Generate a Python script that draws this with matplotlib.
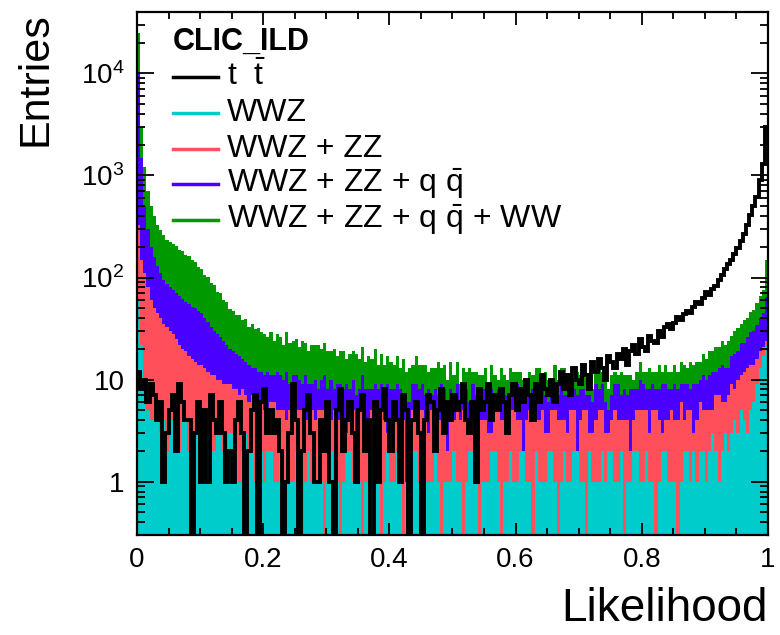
import numpy as np
import matplotlib
matplotlib.use("Agg")
import matplotlib.pyplot as plt
from matplotlib.ticker import LogLocator, MultipleLocator, NullFormatter

plt.rcParams['font.family'] = ['Liberation Sans', 'DejaVu Sans']
plt.rcParams['mathtext.fontset'] = 'custom'
plt.rcParams['mathtext.rm'] = 'Liberation Sans'
plt.rcParams['mathtext.it'] = 'Liberation Sans:italic'
plt.rcParams['mathtext.bf'] = 'Liberation Sans:bold'

# 200 bins in likelihood, entries per bin for each process
n_bins = 200

wwz = [60, 22, 9, 5, 4, 4, 4, 3, 4, 2,
       4, 4, 5, 2, 4, 4, 2, 2, 3, 4,
       2, 2, 3, 2, 2, 4, 3, 2, 2, 3,
       3, 2, 1, 2, 3, 2, 2, 1, 2, 2,
       1, 2, 2, 1, 1, 2, 1, 2, 1, 1,
       2, 1, 0, 1, 2, 1, 1, 2, 1, 0,
       1, 2, 1, 1, 0, 1, 2, 2, 1, 1,
       1, 0, 1, 1, 2, 1, 1, 0, 1, 2,
       1, 1, 2, 1, 0, 1, 1, 2, 2, 1,
       0, 1, 1, 1, 2, 1, 0, 1, 1, 1,
       2, 1, 1, 0, 1, 2, 2, 1, 0, 1,
       1, 1, 2, 2, 1, 0, 1, 1, 2, 1,
       1, 2, 2, 1, 1, 0, 2, 1, 1, 1,
       2, 2, 1, 0, 1, 2, 1, 1, 2, 2,
       1, 1, 0, 2, 1, 1, 1, 2, 1, 2,
       2, 1, 1, 2, 0, 1, 1, 2, 2, 1,
       1, 2, 1, 1, 0, 1, 2, 2, 1, 1,
       1, 0, 1, 2, 2, 1, 2, 1, 2, 2,
       1, 2, 3, 2, 1, 2, 3, 2, 3, 4,
       3, 5, 4, 3, 5, 6, 9, 13, 17, 22]

zz = [270, 128, 101, 75, 56, 46, 41, 37, 31, 31,
      26, 24, 20, 20, 16, 15, 15, 14, 12, 10,
      12, 11, 9, 9, 9, 6, 7, 7, 7, 6,
      5, 6, 6, 6, 4, 4, 5, 5, 4, 4,
      4, 3, 4, 5, 4, 3, 4, 2, 4, 4,
      3, 4, 5, 3, 2, 4, 3, 3, 4, 5,
      3, 2, 4, 3, 4, 3, 1, 3, 4, 2,
      4, 5, 3, 2, 3, 4, 2, 5, 3, 1,
      3, 4, 2, 3, 4, 0, 3, 3, 2, 4,
      5, 3, 2, 4, 2, 3, 4, 3, 1, 3,
      2, 4, 3, 5, 3, 1, 2, 4, 4, 3,
      3, 2, 1, 3, 4, 4, 3, 2, 3, 4,
      3, 2, 0, 3, 4, 4, 2, 3, 4, 2,
      1, 3, 4, 4, 3, 2, 2, 4, 3, 0,
      3, 4, 5, 1, 2, 3, 4, 3, 2, 1,
      2, 4, 3, 2, 4, 3, 1, 2, 3, 4,
      4, 3, 2, 4, 5, 3, 1, 2, 3, 4,
      3, 4, 5, 2, 3, 4, 1, 3, 4, 3,
      4, 3, 2, 5, 6, 4, 3, 5, 6, 4,
      7, 6, 8, 10, 9, 8, 7, 6, 4, 2]

qq = [9670, 1350, 390, 220, 140, 110, 85, 70, 60, 53,
      50, 47, 45, 44, 42, 39, 38, 36, 35, 33,
      31, 27, 25, 22, 19, 18, 16, 15, 13, 11,
      11, 10, 10, 8, 8, 8, 6, 7, 6, 6,
      6, 7, 5, 5, 7, 6, 5, 8, 4, 6,
      6, 5, 4, 7, 5, 4, 6, 3, 5, 6,
      4, 6, 3, 5, 5, 4, 6, 3, 5, 4,
      3, 6, 4, 5, 3, 4, 5, 4, 3, 6,
      4, 3, 5, 4, 3, 5, 2, 4, 5, 3,
      4, 3, 5, 2, 4, 3, 5, 4, 3, 4,
      3, 4, 2, 3, 4, 3, 5, 2, 3, 4,
      4, 3, 5, 2, 3, 4, 3, 4, 2, 3,
      5, 3, 4, 3, 2, 4, 3, 5, 3, 4,
      3, 2, 4, 3, 5, 3, 4, 2, 3, 5,
      4, 3, 2, 4, 3, 5, 3, 4, 3, 2,
      3, 4, 5, 3, 4, 3, 6, 4, 3, 5,
      4, 3, 5, 4, 3, 4, 6, 5, 4, 3,
      5, 4, 3, 5, 4, 3, 6, 5, 4, 6,
      5, 6, 7, 5, 6, 8, 7, 6, 8, 10,
      9, 12, 11, 13, 15, 16, 18, 21, 24, 40]

ww = [15000, 1500, 700, 400, 300, 240, 200, 180, 165, 149,
      145, 138, 132, 120, 121, 108, 107, 95, 92, 80,
      77, 66, 65, 55, 54, 44, 44, 36, 35, 29,
      28, 25, 26, 22, 24, 19, 22, 18, 20, 17,
      17, 14, 18, 13, 16, 15, 12, 17, 14, 13,
      14, 11, 15, 12, 10, 13, 12, 14, 10, 12,
      11, 9, 12, 8, 10, 11, 7, 10, 9, 11,
      8, 10, 7, 9, 8, 11, 6, 9, 7, 8,
      7, 6, 8, 5, 9, 6, 7, 5, 8, 6,
      5, 7, 4, 6, 5, 8, 4, 6, 5, 7,
      4, 6, 3, 5, 4, 7, 3, 5, 4, 3,
      5, 3, 6, 4, 2, 5, 4, 3, 6, 4,
      3, 5, 4, 2, 5, 3, 6, 4, 3, 5,
      4, 2, 5, 3, 4, 6, 3, 4, 2, 5,
      3, 5, 4, 3, 2, 4, 5, 3, 4, 3,
      4, 3, 2, 5, 3, 4, 3, 2, 4, 5,
      3, 4, 5, 3, 4, 6, 3, 5, 4, 4,
      5, 4, 6, 5, 4, 7, 5, 6, 5, 7,
      6, 8, 7, 9, 8, 10, 9, 11, 10, 12,
      13, 12, 15, 14, 17, 18, 22, 26, 30, 84]

tt = [12, 8, 10, 6, 9, 7, 4, 6, 1, 3,
      5, 7, 2, 9, 6, 4, 4, 0, 3, 6,
      1, 5, 1, 7, 4, 3, 6, 3, 1, 2,
      1, 4, 6, 3, 0, 2, 5, 7, 0, 6,
      8, 3, 5, 3, 4, 2, 0, 1, 3, 9,
      4, 0, 2, 5, 7, 3, 1, 1, 4, 2,
      6, 1, 0, 5, 8, 2, 4, 6, 3, 1,
      5, 7, 2, 4, 0, 6, 1, 5, 8, 4,
      2, 6, 4, 1, 7, 5, 0, 4, 6, 3,
      0, 4, 7, 6, 2, 5, 8, 3, 6, 4,
      7, 5, 6, 9, 4, 3, 6, 1, 8, 5,
      6, 9, 4, 7, 5, 8, 6, 3, 7, 9,
      5, 8, 6, 10, 7, 4, 9, 6, 11, 8,
      7, 10, 6, 9, 12, 8, 11, 7, 13, 10,
      9, 14, 11, 8, 15, 12, 16, 13, 10, 17,
      15, 13, 18, 16, 20, 14, 19, 22, 18, 25,
      21, 19, 27, 24, 23, 30, 26, 33, 35, 31,
      36, 41, 38, 44, 47, 45, 52, 58, 55, 63,
      72, 68, 78, 82, 95, 105, 122, 135, 150, 170,
      195, 230, 270, 330, 410, 500, 620, 900, 1300, 3000]

labels = ['WWZ', 'WWZ + ZZ', r'WWZ + ZZ + q $\bar{\mathrm{q}}$',
          r'WWZ + ZZ + q $\bar{\mathrm{q}}$ + WW']
tt_label = r't  $\bar{\mathrm{t}}$'
colors = ['#00cccc', '#ff4f5a', '#4a00ff', '#009a00']

x_ticks = [0, 0.2, 0.4, 0.6, 0.8, 1]
x_tick_labels = ['0', '0.2', '0.4', '0.6', '0.8', '1']
y_ticks = [1, 10, 100, 1000, 10000]
y_tick_labels = ['1', '10', r'$10^{2}$', r'$10^{3}$', r'$10^{4}$']

edges = np.linspace(0, 1, n_bins + 1)
stack = np.cumsum([wwz, zz, qq, ww], axis=0)
floor = 1e-2

fig = plt.figure(figsize=(7.8, 6.35), dpi=100)
ax = fig.add_axes([0.1756, 0.1575, 0.809, 0.8236])

# stacked histograms, drawn from the full sum down to WWZ alone
for level, col in zip(stack[::-1], colors[::-1]):
    ax.stairs(np.maximum(level, floor), edges, fill=True, color=col,
              baseline=floor, lw=0)
ax.stairs(np.maximum(tt, floor), edges, color='black', lw=2.8, baseline=None)

ax.set_yscale('log')
ax.set_xlim(0, 1)
ax.set_ylim(0.3, 4e4)

ax.set_xticks(x_ticks, x_tick_labels)
ax.xaxis.set_minor_locator(MultipleLocator(0.05))
ax.set_yticks(y_ticks, y_tick_labels)
ax.yaxis.set_minor_locator(LogLocator(base=10, subs=np.arange(2, 10)))
ax.yaxis.set_minor_formatter(NullFormatter())
ax.tick_params(which='both', direction='in', top=True, right=True,
               width=1.3, labelsize=20, pad=9)
ax.tick_params(axis='x', which='major', length=9)
ax.tick_params(axis='x', which='minor', length=5)
ax.tick_params(axis='y', which='major', length=12)
ax.tick_params(axis='y', which='minor', length=6)
for s in ax.spines.values():
    s.set_linewidth(1.6)

ax.set_xlabel('Likelihood', loc='right', fontsize=33, labelpad=10)
ax.set_ylabel('Entries', loc='top', fontsize=31, labelpad=18)

# legend, ROOT style
ax.text(0.056, 0.943, 'CLIC_ILD', transform=ax.transAxes, fontsize=22,
        fontweight='bold', va='center', ha='left')
rows = [tt_label] + labels
row_colors = ['black'] + colors
for i, (lab, col) in enumerate(zip(rows, row_colors)):
    y = 0.876 - i * 0.0685
    ax.plot([0.057, 0.128], [y, y], color=col, lw=2.5,
            transform=ax.transAxes)
    ax.text(0.143, y, lab, transform=ax.transAxes, fontsize=23,
            va='center', ha='left')

fig.savefig('out.png', dpi=100)
